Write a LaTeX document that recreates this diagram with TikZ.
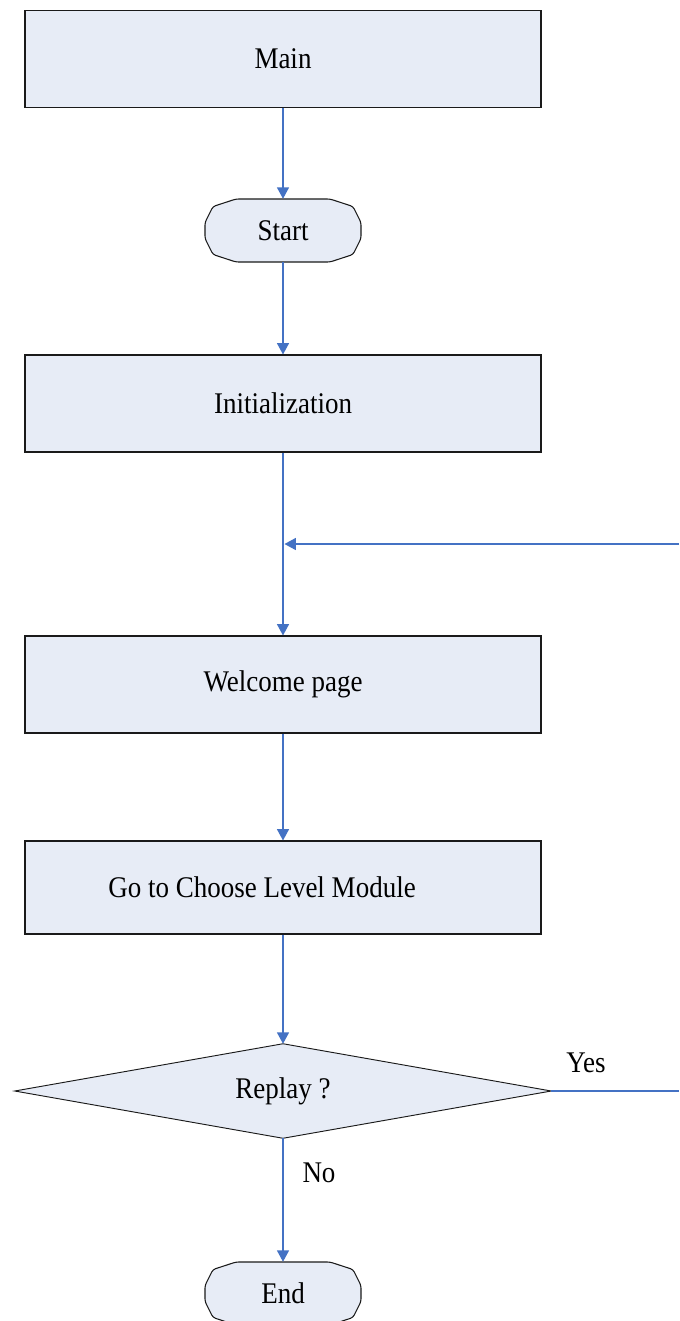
\documentclass[tikz,border=0pt]{standalone}
\usepackage{fontspec}
\setmainfont{Liberation Serif}[FakeStretch=0.9]
\usetikzlibrary{arrows.meta}
\definecolor{boxfill}{HTML}{E7ECF6}
\definecolor{flowblue}{HTML}{4472C4}
\definecolor{edge}{HTML}{1A1A1A}
\tikzset{
  procbox/.style={rectangle, draw=edge, line width=0.8pt, fill=boxfill,
    minimum width=387pt, minimum height=72.75pt, inner sep=0pt},
  termnode/.style={rectangle, draw=none, minimum width=117pt,
    minimum height=47.25pt, inner sep=0pt},
  decnode/.style={rectangle, draw=none, minimum width=402pt,
    minimum height=70.5pt, inner sep=0pt},
  flow/.style={draw=flowblue, line width=0.9pt,
    -{Triangle[length=8.5pt,width=9pt]}},
  flowline/.style={draw=flowblue, line width=0.9pt},
  lbl/.style={inner sep=0pt, font=\fontsize{22.5pt}{27pt}\selectfont},
}
% octagonal terminal outline drawn around a node
\newcommand{\termoutline}[1]{%
  \filldraw[draw=edge, line width=0.8pt, fill=boxfill, rounded corners=2pt,
    shift={(#1.center)}]
    (-47,-31.5) -- (47,-31.5) -- (70,-24) -- (78,-8) -- (78,8) -- (70,24)
    -- (47,31.5) -- (-47,31.5) -- (-70,24) -- (-78,8) -- (-78,-8)
    -- (-70,-24) -- cycle;}
\begin{document}
\begin{tikzpicture}[x=0.75pt, y=-0.75pt, font=\fontsize{22.5pt}{27pt}\selectfont]
\useasboundingbox (0,0) rectangle (679,1321);

% process boxes
\node[procbox] (main) at (283,58.7) {Main};
\node[termnode] (start) at (283,230.5) {};
\termoutline{start}
\node[lbl] (startText) at (start.center) {Start};
\node[procbox] (init) at (283,403.5) {Initialization};
\node[procbox] (welcome) at (283,684.5) {Welcome page};
\node[procbox, minimum height=69.75pt] (choose) at (283,887.5) {};
\node[lbl] (chooseText) at (262,887.5) {Go to Choose Level Module};

% decision
\node[decnode] (replay) at (283,1091) {};
\filldraw[draw=edge, line width=0.7pt, fill=boxfill]
  (replay.north) -- (replay.east) -- (replay.south) -- (replay.west) -- cycle;
\node[lbl] (replayText) at (replay.center) {Replay ?};

\node[termnode] (finish) at (283,1293.5) {};
\termoutline{finish}
\node[lbl] (finishText) at (finish.center) {End};

% branch labels
\node[lbl] (yes) at (586,1063) {Yes};
\node[lbl] (no) at (319,1173) {No};

% loop-back junction and open ends at the right margin
\coordinate (loopR) at (679,544);
\coordinate (loopJ) at (284.5,544);
\coordinate (yesR) at (679,1091);

% connectors
\draw[flow] (main.south) -- (start.north);
\draw[flow] (start.south) -- (init.north);
\draw[flow] (init.south) -- (welcome.north);
\draw[flow] (loopR) -- (loopJ);
\draw[flow] (welcome.south) -- (choose.north);
\draw[flow] (choose.south) -- (replay.north);
\draw[flowline] (replay.east) -- (yesR);
\draw[flow] (replay.south) -- (finish.north);
\end{tikzpicture}
\end{document}
